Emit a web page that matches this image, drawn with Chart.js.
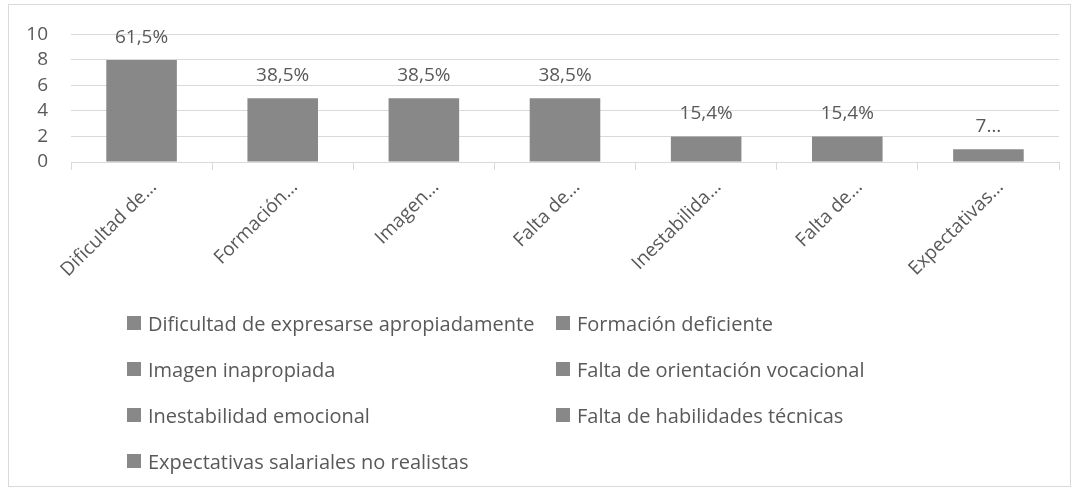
<!DOCTYPE html>
<html>
<head>
<meta charset="utf-8">
<script src="https://cdn.jsdelivr.net/npm/chart.js@4/dist/chart.umd.min.js"></script>
<style>
  body { margin: 0; background: #fff; }
  #frame { position: absolute; left: 8px; top: 4px; width: 1061px; height: 481px; border: 1px solid #d9d9d9; }
  #wrap { position: absolute; left: 0; top: 0; width: 1078px; height: 495px; }
  #legend { position: absolute; left: 127px; top: 310px; display: grid; grid-template-columns: 429px 400px; row-gap: 20px;
    font-family: "Open Sans", sans-serif; font-size: 20px; color: #595959; }
  #legend div { display: flex; align-items: center; height: 26px; white-space: nowrap; }
  #legend span.box { display: inline-block; width: 14px; height: 14px; background: #888888; margin-right: 7px; }
</style>
</head>
<body>
<div id="frame"></div>
<div id="wrap"><canvas id="chart" width="1078" height="495"></canvas></div>
<div id="legend"></div>
<script>
const categories = [
  'Dificultad de expresarse apropiadamente',
  'Formación deficiente',
  'Imagen inapropiada',
  'Falta de orientación vocacional',
  'Inestabilidad emocional',
  'Falta de habilidades técnicas',
  'Expectativas salariales no realistas'
];
const tickLabels = ['Dificultad de…', 'Formación…', 'Imagen…', 'Falta de…', 'Inestabilida…', 'Falta de…', 'Expectativas…'];
const counts = [8, 5, 5, 5, 2, 2, 1];
const percentLabels = ['61,5%', '38,5%', '38,5%', '38,5%', '15,4%', '15,4%', '7…'];

const barColor = '#888888';
const textColor = '#595959';
const gridColor = '#d9d9d9';
const font = { family: '"Open Sans", sans-serif', size: 19 };

const valueLabels = {
  id: 'valueLabels',
  afterDatasetsDraw(chart) {
    const ctx = chart.ctx;
    const meta = chart.getDatasetMeta(0);
    ctx.save();
    ctx.font = font.size + 'px ' + font.family;
    ctx.fillStyle = textColor;
    ctx.textAlign = 'center';
    ctx.textBaseline = 'alphabetic';
    meta.data.forEach((bar, i) => {
      ctx.fillText(percentLabels[i], bar.x, bar.y - 17);
    });
    ctx.restore();
  }
};

new Chart(document.getElementById('chart'), {
  type: 'bar',
  data: {
    labels: categories,
    datasets: [{
      data: counts,
      backgroundColor: barColor,
      categoryPercentage: 1,
      barPercentage: 0.5
    }]
  },
  options: {
    responsive: false,
    animation: false,
    layout: { padding: { top: 33, right: 19, left: 0, bottom: 0 } },
    plugins: { legend: { display: false }, tooltip: { enabled: false } },
    scales: {
      x: {
        grid: { drawOnChartArea: false, offset: true, tickLength: 8, color: gridColor },
        border: { color: gridColor },
        ticks: {
          color: textColor, font: font, maxRotation: 45, minRotation: 45, padding: 6, labelOffset: 12,
          callback: (v, i) => tickLabels[i]
        },
        afterFit(scale) { scale.height = 495 - 162; }
      },
      y: {
        min: 0, max: 10,
        grid: { color: gridColor, drawTicks: false },
        border: { display: false },
        ticks: { stepSize: 2, autoSkip: false, color: textColor, font: font, padding: 23 },
        afterFit(scale) { scale.width = 71; }
      }
    }
  },
  plugins: [valueLabels]
});

const legend = document.getElementById('legend');
categories.forEach(name => {
  const item = document.createElement('div');
  item.innerHTML = '<span class="box"></span>';
  item.appendChild(document.createTextNode(name));
  legend.appendChild(item);
});
</script>
</body>
</html>
